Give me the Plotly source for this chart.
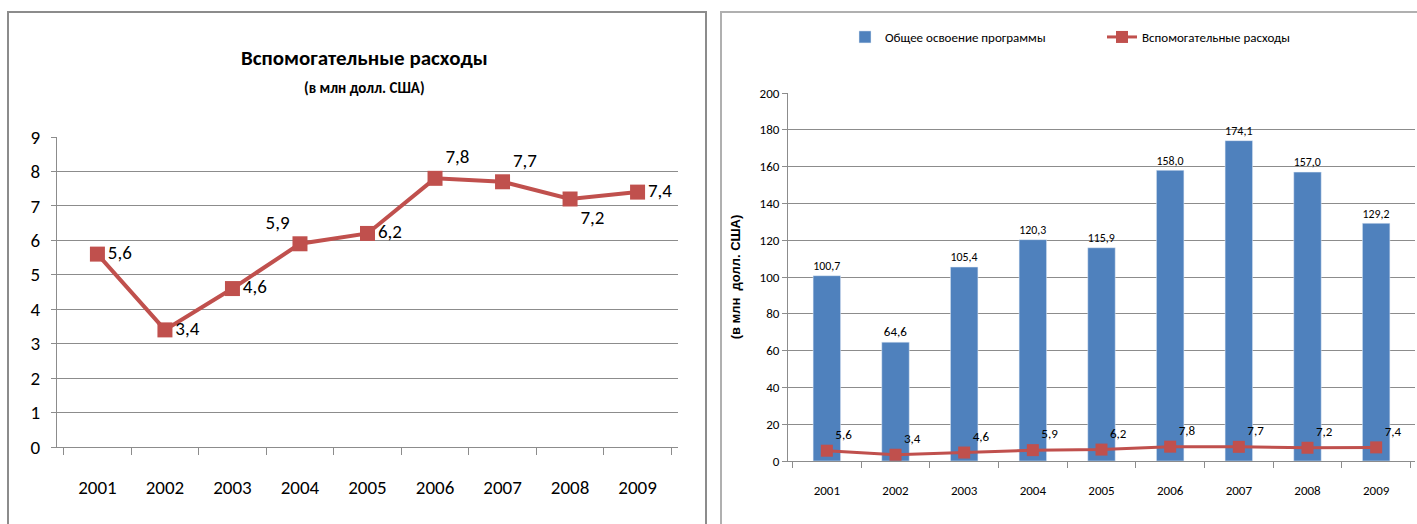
import plotly.graph_objects as go

years = ["2001", "2002", "2003", "2004", "2005", "2006", "2007", "2008", "2009"]
aux_costs = [5.6, 3.4, 4.6, 5.9, 6.2, 7.8, 7.7, 7.2, 7.4]
total_program = [100.7, 64.6, 105.4, 120.3, 115.9, 158.0, 174.1, 157.0, 129.2]
left_label_pos = ["middle right", "middle right", "middle right", "top left", "middle right",
                  "top right", "top right", "bottom right", "middle right"]

title_main = "Вспомогательные расходы"
title_sub = "(в млн долл. США)"
legend_bar = "Общее освоение программы"
legend_line = "Вспомогательные расходы"
y2_title = "(в млн  долл. США)"

RED = "#C0504D"
BLUE = "#4F81BD"
GRID = "#8C8C8C"
FONT = "Carlito, Lato, sans-serif"

def fmt(v):
    return f"{v:.1f}".replace(".", ",")

W, H = 1417, 524
fig = go.Figure()

# Left panel
fig.add_trace(go.Scatter(
    x=years, y=aux_costs, mode="lines+markers+text",
    line=dict(color=RED, width=4),
    marker=dict(symbol="square", size=15, color=RED),
    text=[fmt(v) for v in aux_costs], textposition=left_label_pos,
    textfont=dict(size=19, color="#000000", family=FONT),
    showlegend=False, xaxis="x", yaxis="y", cliponaxis=False,
))

# Right panel
fig.add_trace(go.Bar(
    x=years, y=total_program, name=legend_bar, marker=dict(color=BLUE),
    text=[fmt(v) for v in total_program], textposition="outside",
    textfont=dict(size=13, color="#000000", family=FONT),
    xaxis="x2", yaxis="y2", cliponaxis=False,
))
fig.add_trace(go.Scatter(
    x=years, y=aux_costs, name=legend_line, mode="lines+markers+text",
    line=dict(color=RED, width=3),
    marker=dict(symbol="square", size=12, color=RED),
    text=[fmt(v) for v in aux_costs], textposition="top right",
    textfont=dict(size=13, color="#000000", family=FONT),
    xaxis="x2", yaxis="y2", cliponaxis=False,
))

def px_x(p):
    return p / W

def px_y(p):
    return 1 - p / H

axis_common = dict(showline=True, linecolor=GRID, linewidth=1, zeroline=False, automargin=False)

fig.update_layout(
    width=W, height=H,
    margin=dict(l=0, r=0, t=0, b=0, pad=0),
    paper_bgcolor="white", plot_bgcolor="white",
    font=dict(family=FONT, color="#000000"),
    bargap=0.6,
    xaxis=dict(domain=[px_x(57), px_x(678)], type="category", tickson="boundaries",
               ticks="outside", ticklen=7, tickcolor=GRID, showgrid=False,
               tickfont=dict(size=19), ticklabelstandoff=23, **axis_common),
    yaxis=dict(domain=[px_y(447), px_y(137)], range=[0, 9], dtick=1,
               showgrid=True, gridcolor=GRID, gridwidth=1, ticks="outside", ticklen=5,
               tickcolor=GRID, tickfont=dict(size=19), ticklabelstandoff=7,
               anchor="x", **axis_common),
    xaxis2=dict(domain=[px_x(788), px_x(1415)], type="category", tickson="boundaries",
                ticks="outside", ticklen=6, tickcolor=GRID, showgrid=False,
                tickfont=dict(size=13), ticklabelstandoff=17, anchor="y2", **axis_common),
    yaxis2=dict(domain=[px_y(461), px_y(93)], range=[0, 200], dtick=20,
                showgrid=True, gridcolor=GRID, gridwidth=1, ticks="outside", ticklen=5,
                tickcolor=GRID, tickfont=dict(size=13), anchor="x2",
                title=dict(text=y2_title, font=dict(size=13, family="Liberation Sans, Arial, sans-serif", weight="bold"),
                           standoff=16),
                **axis_common),
    legend=dict(orientation="h", x=px_x(845), y=px_y(37), xanchor="left", yanchor="middle",
                font=dict(size=13, family=FONT), bgcolor="rgba(0,0,0,0)",
                itemwidth=30, tracegroupgap=0, entrywidthmode="pixels", entrywidth=212),
    annotations=[
        dict(text=f"<b>{title_main}</b>", x=px_x(364), y=px_y(58), xref="paper", yref="paper",
             xanchor="center", yanchor="middle",
             showarrow=False, font=dict(size=21, family=FONT)),
        dict(text=f"<b>{title_sub}</b>", x=px_x(364), y=px_y(88), xref="paper", yref="paper",
             xanchor="center", yanchor="middle",
             showarrow=False, font=dict(size=15, family=FONT)),
    ],
    shapes=[
        dict(type="rect", xref="paper", yref="paper", x0=px_x(8), x1=px_x(706),
             y0=px_y(540), y1=px_y(12), line=dict(color="#8C8C8C", width=2)),
        dict(type="rect", xref="paper", yref="paper", x0=px_x(721), x1=px_x(1430),
             y0=px_y(540), y1=px_y(12), line=dict(color="#B0B0B0", width=2)),
    ],
)

fig.write_html("out.html", config={"displayModeBar": False},
               post_script="document.body.style.margin='0px';document.body.style.overflow='hidden';")
